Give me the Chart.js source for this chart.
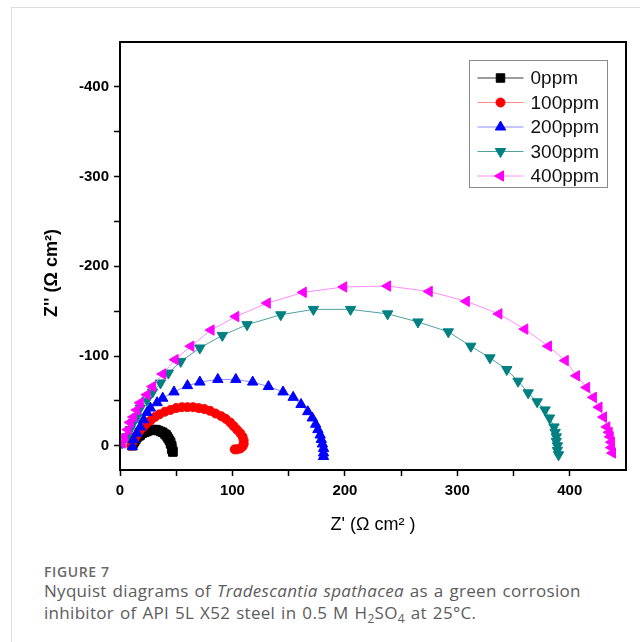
<!DOCTYPE html>
<html>
<head>
<meta charset="utf-8">
<title>Nyquist diagrams</title>
<script src="https://cdn.jsdelivr.net/npm/chart.js@4/dist/chart.umd.min.js"></script>
<style>
  html, body { margin: 0; width: 640px; height: 642px; overflow: hidden; background: #fff; }
  #frame { position: absolute; left: 11px; top: 7px; width: 700px; height: 700px;
           border-left: 1px solid #dcdcdc; border-top: 1px solid #dcdcdc; }
  #plot { position: absolute; left: 0; top: 0; }
  .cap { position: absolute; left: 44px; font-family: "Open Sans", sans-serif; white-space: nowrap; }
  .fig { top: 563px; font-size: 14px; line-height: 18px; font-weight: 600; color: #6a6a6a; letter-spacing: 0.6px; }
  .txt { font-size: 17px; line-height: 21.5px; color: #5c5c5c; letter-spacing: 0.3px; word-spacing: 1.2px; }
  .txt sub { font-size: 12px; line-height: 0; }
</style>
</head>
<body>
<div id="frame"></div>
<canvas id="plot" width="640" height="540"></canvas>
<div class="cap fig">FIGURE 7</div>
<div class="cap txt" style="top:580px">Nyquist diagrams of <i>Tradescantia spathacea</i> as a green corrosion<br>inhibitor of API 5L X52 steel in 0.5 M H<sub>2</sub>SO<sub>4</sub> at 25°C.</div>

<script>
// inhibitor concentrations
const ppm = ['0ppm', '100ppm', '200ppm', '300ppm', '400ppm'];

// Z' (real part) and Z'' (imaginary part), ohm cm2
const re0 = [11, 12, 13, 14, 15, 17, 18, 20, 22, 24, 26, 28, 30, 32, 34, 36, 38, 40, 41, 42, 43, 44, 45, 45, 46, 46, 46, 47, 47];
const im0 = [0, -3, -5, -7, -9, -11, -12, -14, -15, -16, -17, -18, -18, -18, -17, -16, -15, -13, -12, -10, -8, -6, -4, -2, 0, 2, 4, 6, 7];

const re100 = [10, 11, 13, 15, 17, 20, 23, 27, 31, 35, 40, 45, 50, 55, 60, 65, 70, 75, 80, 85, 90, 94, 98, 101, 104, 107, 109, 110, 110, 109, 107, 104, 102];
const im100 = [0, -4, -8, -12, -16, -20, -24, -28, -32, -35, -38, -40, -42, -43, -43, -43, -42, -41, -39, -36, -33, -30, -26, -22, -18, -14, -10, -6, -2, 1, 3, 4, 4];

const re200 = [11, 12, 15, 18, 21, 24, 27, 33, 38, 48, 60, 71, 87, 103, 118, 132, 145, 154, 161, 167, 171, 174, 176, 178, 179, 180, 181, 181, 181];
const im200 = [1, -7, -14, -21, -29, -37, -42, -48, -53, -60, -67, -71, -74, -74, -71, -66, -60, -54, -46, -38, -31, -24, -18, -12, -7, -2, 3, 8, 12];

const re300 = [2, 6, 9, 12, 15, 18, 24, 29, 36, 43, 54, 71, 91, 113, 143, 172, 205, 238, 265, 292, 312, 329, 344, 354, 363, 371, 378, 382, 386, 387, 388, 388, 389, 389, 390];
const im300 = [-3, -10, -18, -26, -32, -42, -51, -60, -70, -81, -94, -109, -123, -135, -146, -152, -152, -147, -138, -127, -111, -98, -85, -72, -59, -49, -40, -31, -21, -15, -10, -5, 0, 5, 10];

const re400 = [2, 4, 7, 9, 12, 15, 18, 24, 29, 38, 49, 63, 81, 103, 131, 163, 199, 238, 275, 308, 337, 360, 381, 396, 406, 415, 421, 426, 430, 433, 435, 436, 437, 437, 438];
const im400 = [-3, -10, -18, -26, -32, -40, -48, -57, -66, -80, -96, -111, -129, -144, -159, -171, -177, -178, -172, -161, -147, -130, -111, -95, -78, -65, -54, -43, -32, -21, -15, -10, -4, 2, 8];

const series = [[re0, im0], [re100, im100], [re200, im200], [re300, im300], [re400, im400]];

// marker look per series
const markColors = ['#000000', '#ff0000', '#0000ff', '#008080', '#ff00ff'];
const lineColors = ['#3a3a3a', '#ff8c8c', '#8c8cff', '#4fa0a0', '#ff8cff'];
const markStyles = ['rect', 'circle', 'triangle', 'triangle', 'triangle'];
const markRotation = [0, 0, 0, 180, -90];
const markRadius = [6, 4.5, 6, 6, 6];

const FONT = '"Liberation Sans", Arial, sans-serif';

// box around the plot, axis titles and the legend
const framePlugin = {
    id: 'frame',
    afterDraw(chart) {
        const { ctx, chartArea: a } = chart;
        ctx.save();
        ctx.strokeStyle = '#000';
        ctx.lineWidth = 2;
        ctx.strokeRect(a.left, a.top, a.right - a.left, a.bottom - a.top);

        ctx.fillStyle = '#000';
        ctx.textAlign = 'center';
        ctx.textBaseline = 'middle';
        ctx.font = '18px ' + FONT;
        ctx.fillText("Z' (\u03A9 cm\u00B2 )", (a.left + a.right) / 2, 525);

        ctx.save();
        ctx.translate(52, 273);
        ctx.rotate(-Math.PI / 2);
        ctx.font = 'bold 18px ' + FONT;
        ctx.fillText("Z'' (\u03A9 cm\u00B2)", 0, 0);
        ctx.restore();

        // legend
        const lx = a.right - 156.5, ly = a.top + 18.5;
        ctx.strokeStyle = '#8a8a8a';
        ctx.lineWidth = 1;
        ctx.strokeRect(lx, ly, 138, 127);
        ctx.textAlign = 'left';
        ctx.font = '19px ' + FONT;
        chart.data.datasets.forEach((ds, i) => {
            const y = ly + 17.5 + i * 24.5;
            ctx.strokeStyle = ds.borderColor;
            ctx.lineWidth = 1;
            ctx.beginPath();
            ctx.moveTo(lx + 8, y);
            ctx.lineTo(lx + 54, y);
            ctx.stroke();
            ctx.fillStyle = ds.pointBackgroundColor;
            ctx.strokeStyle = ds.pointBorderColor;
            if (Chart.helpers && Chart.helpers.drawPoint) {
                Chart.helpers.drawPoint(ctx, {
                    pointStyle: ds.pointStyle,
                    rotation: ds.pointRotation,
                    radius: ds.pointRadius,
                    borderWidth: 1
                }, lx + 31, y);
            }
            ctx.fillStyle = '#111';
            ctx.fillText(ds.label, lx + 61, y + 1);
        });
        ctx.restore();
    }
};

const tickFont = { family: FONT, size: 15, weight: 'bold' };

new Chart(document.getElementById('plot'), {
    type: 'scatter',
    data: {
        datasets: series.map(([re, im], i) => ({
            label: ppm[i],
            data: re.map((x, k) => ({ x: x, y: im[k] })),
            showLine: true,
            borderColor: lineColors[i],
            borderWidth: 1,
            backgroundColor: markColors[i],
            pointBackgroundColor: markColors[i],
            pointBorderColor: markColors[i],
            pointBorderWidth: 1,
            pointStyle: markStyles[i],
            pointRotation: markRotation[i],
            pointRadius: markRadius[i],
            order: series.length - i
        }))
    },
    options: {
        responsive: false,
        animation: false,
        layout: { padding: { top: 42, right: 14, left: 0, bottom: 0 } },
        plugins: {
            legend: { display: false },
            tooltip: { enabled: false }
        },
        scales: {
            x: {
                type: 'linear',
                min: 0,
                max: 450,
                afterFit: s => { s.height = 70; },
                afterBuildTicks: s => { s.ticks = s.ticks.filter(t => t.value % 50 === 0 && t.value < 450); },
                ticks: {
                    stepSize: 50,
                    autoSkip: false,
                    maxRotation: 0,
                    padding: 6,
                    color: '#000',
                    font: tickFont,
                    callback: v => (v % 100 === 0 ? v : '')
                },
                grid: { drawOnChartArea: false, tickLength: 6, tickWidth: 1.5, tickColor: '#000' },
                border: { display: false }
            },
            y: {
                type: 'linear',
                min: -450,
                max: 27,
                reverse: true,
                afterFit: s => { s.width = 120; },
                afterBuildTicks: s => { s.ticks = s.ticks.filter(t => t.value % 50 === 0 && t.value > -450 && t.value <= 0); },
                ticks: {
                    stepSize: 50,
                    autoSkip: false,
                    padding: 5,
                    color: '#000',
                    font: tickFont,
                    callback: v => (v % 100 === 0 ? v : '')
                },
                grid: { drawOnChartArea: false, tickLength: 6, tickWidth: 1.5, tickColor: '#000' },
                border: { display: false }
            }
        }
    },
    plugins: [framePlugin]
});
</script>
</body>
</html>
